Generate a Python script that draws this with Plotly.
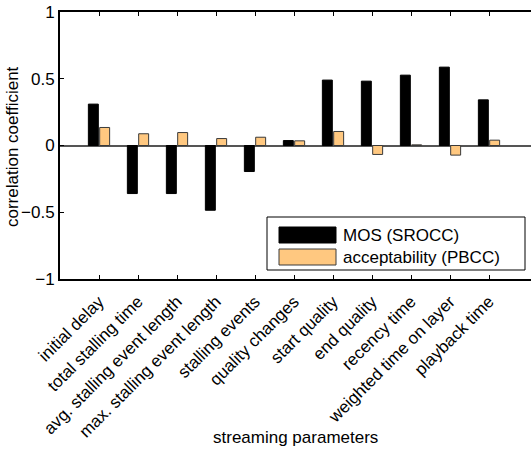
import plotly.graph_objects as go

# Streaming parameters and their correlation with the subjective ratings
parameters = [
    "initial delay", "total stalling time", "avg. stalling event length",
    "max. stalling event length", "stalling events", "quality changes",
    "start quality", "end quality", "recency time",
    "weighted time on layer", "playback time",
]
mos_srocc = [0.31, -0.36, -0.36, -0.485, -0.195, 0.037, 0.49, 0.482, 0.527, 0.587, 0.342]
accept_pbcc = [0.135, 0.088, 0.097, 0.052, 0.062, 0.035, 0.105, -0.067, 0.005, -0.072, 0.04]

series_names = ["MOS (SROCC)", "acceptability (PBCC)"]
y_ticks = [-1, -0.5, 0, 0.5, 1]

FONT = "Arial, Liberation Sans, Helvetica, sans-serif"
FS = 17
ORANGE = "#FFC880"
W, H = 531, 450
L, R, T, B = 60, 0, 12, 171

fig = go.Figure()
fig.add_trace(go.Bar(
    x=parameters, y=mos_srocc, name=series_names[0],
    marker=dict(color="black", line=dict(color="black", width=1)),
    showlegend=False,
))
fig.add_trace(go.Bar(
    x=parameters, y=accept_pbcc, name=series_names[1],
    marker=dict(color=ORANGE, line=dict(color="#3a3a3a", width=1)),
    showlegend=False,
))
# invisible trace driving the top axis (box top with inward ticks)
fig.add_trace(go.Scatter(x=parameters, y=[None] * len(parameters),
                         xaxis="x2", showlegend=False, hoverinfo="skip"))

plot_w = W - L - R
plot_h = H - T - B


def px_x(px):
    return (px - L) / plot_w


def px_y(py):
    return (H - B - py) / plot_h


# hand-drawn legend box in the lower right of the axes
shapes = [
    dict(type="rect", xref="paper", yref="paper",
         x0=px_x(267), x1=px_x(525), y0=px_y(270), y1=px_y(217),
         line=dict(color="black", width=1), fillcolor="white", layer="above"),
    dict(type="rect", xref="paper", yref="paper",
         x0=px_x(279), x1=px_x(336), y0=px_y(243), y1=px_y(227),
         line=dict(color="black", width=1), fillcolor="black", layer="above"),
    dict(type="rect", xref="paper", yref="paper",
         x0=px_x(279), x1=px_x(336), y0=px_y(265), y1=px_y(249),
         line=dict(color="#3a3a3a", width=1), fillcolor=ORANGE, layer="above"),
]
annotations = [
    dict(text=series_names[0], xref="paper", yref="paper", x=px_x(341), y=px_y(235),
         xanchor="left", yanchor="middle", showarrow=False,
         font=dict(family=FONT, size=FS, color="black")),
    dict(text=series_names[1], xref="paper", yref="paper", x=px_x(341), y=px_y(257),
         xanchor="left", yanchor="middle", showarrow=False,
         font=dict(family=FONT, size=FS, color="black")),
    dict(text="streaming parameters", xref="paper", yref="paper", x=0.5, y=px_y(437),
         xanchor="center", yanchor="middle", showarrow=False,
         font=dict(family=FONT, size=FS, color="black")),
    dict(text="correlation coefficient", xref="paper", yref="paper", x=px_x(12), y=px_y(147),
         xanchor="center", yanchor="middle", textangle=-90, showarrow=False,
         font=dict(family=FONT, size=FS, color="black")),
]

x_range = [-1, -1 + plot_w / 39.0]

fig.update_layout(
    width=W, height=H,
    margin=dict(l=L, r=R, t=T, b=B, pad=0),
    paper_bgcolor="white", plot_bgcolor="white",
    barmode="group", bargap=0.42, bargroupgap=0.12,
    font=dict(family=FONT, size=FS, color="black"),
    shapes=shapes, annotations=annotations,
    xaxis=dict(
        range=x_range, tickangle=-45, ticks="inside", ticklen=4, tickcolor="black",
        showline=True, linecolor="black", linewidth=2, showgrid=False, zeroline=False,
        tickfont=dict(family=FONT, size=FS, color="black"), automargin=False,
        ticklabelstandoff=4,
    ),
    xaxis2=dict(
        range=x_range, overlaying="x", side="top", ticks="inside", ticklen=4,
        tickcolor="black", showline=True, linecolor="black", linewidth=1.5,
        showticklabels=False, showgrid=False, zeroline=False, matches="x",
    ),
    yaxis=dict(
        range=[-1, 1], tickvals=y_ticks, ticks="inside", ticklen=4, tickcolor="black",
        showline=True, linecolor="black", linewidth=2, showgrid=False,
        zeroline=True, zerolinecolor="#555555", zerolinewidth=1.5,
        tickfont=dict(family=FONT, size=FS, color="black"), automargin=False,
    ),
)

fig.write_html("out.html")
